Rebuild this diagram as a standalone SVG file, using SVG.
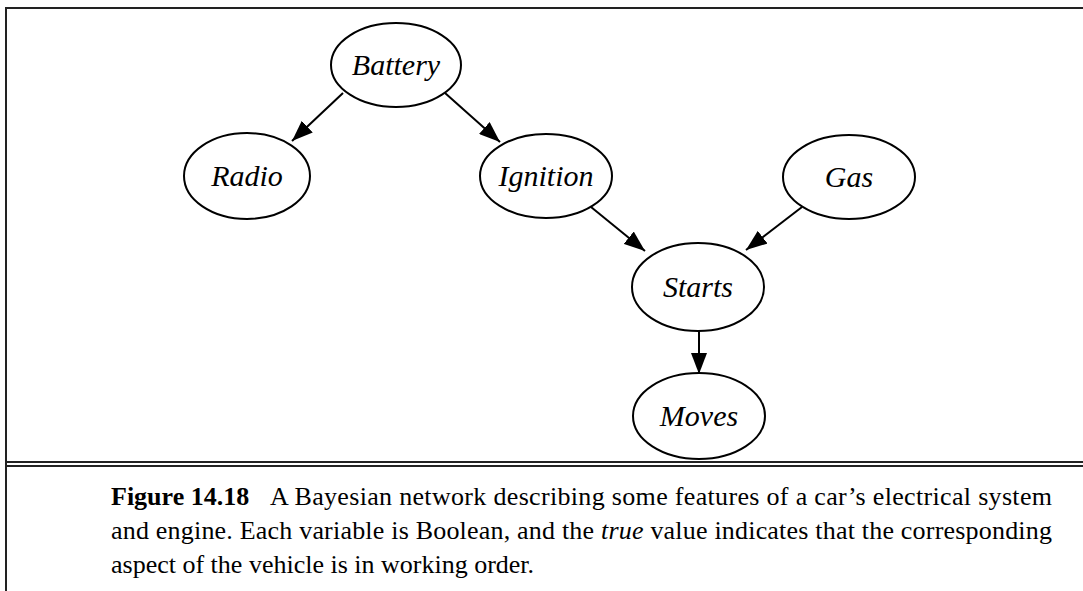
<svg xmlns="http://www.w3.org/2000/svg" width="1083" height="591" viewBox="0 0 1083 591">
<defs>
<marker id="ah" markerUnits="userSpaceOnUse" markerWidth="22" markerHeight="16" viewBox="0 0 22 16" refX="21" refY="8" orient="auto">
<path d="M0,0 L21,8 L0,16 z" fill="#000"/>
</marker>
<style>
.node ellipse{fill:#fff;stroke:#000;stroke-width:2}
.node text{font-family:"Liberation Serif","Times New Roman",serif;font-style:italic;font-size:30px;text-anchor:middle;fill:#000}
.edge{stroke:#000;stroke-width:2;fill:none;marker-end:url(#ah)}
.frame{stroke:#222;stroke-width:2;fill:none}
.cap{font-family:"Liberation Serif","Times New Roman",serif;font-size:26px;fill:#000}
</style>
</defs>
<rect width="1083" height="591" fill="#fff"/>
<g id="frame">
<line class="frame" x1="6" y1="8" x2="1083" y2="8"/>
<line class="frame" x1="6" y1="7" x2="6" y2="591"/>
<line class="frame" x1="6" y1="462" x2="1083" y2="462" stroke-width="1.5"/>
<line class="frame" x1="6" y1="466" x2="1083" y2="466" stroke-width="1.5"/>
</g>
<g id="connectors">
<line class="edge" x1="343" y1="93" x2="292" y2="141"/>
<line class="edge" x1="445" y1="93" x2="500" y2="142"/>
<line class="edge" x1="591" y1="207" x2="645" y2="251"/>
<line class="edge" x1="802" y1="207" x2="746" y2="250"/>
<line class="edge" x1="699" y1="331" x2="699" y2="374"/>
</g>
<g id="battery" class="node"><ellipse cx="396" cy="65" rx="65" ry="42"/><text x="396" y="75">Battery</text></g>
<g id="radio" class="node"><ellipse cx="247" cy="176" rx="63" ry="43"/><text x="247" y="186">Radio</text></g>
<g id="ignition" class="node"><ellipse cx="546" cy="176" rx="66" ry="42"/><text x="546" y="186">Ignition</text></g>
<g id="gas" class="node"><ellipse cx="849" cy="177" rx="66" ry="42"/><text x="849" y="187">Gas</text></g>
<g id="starts" class="node"><ellipse cx="698" cy="287" rx="66" ry="44"/><text x="698" y="297">Starts</text></g>
<g id="moves" class="node"><ellipse cx="699" cy="416" rx="66" ry="43"/><text x="699" y="426">Moves</text></g>
<g id="caption">
<text class="cap" x="111" y="505" font-weight="bold">Figure 14.18</text>
<text class="cap" x="270" y="505" textLength="782" lengthAdjust="spacing">A Bayesian network describing some features of a car’s electrical system</text>
<text class="cap" x="111" y="539" textLength="941" lengthAdjust="spacing">and engine. Each variable is Boolean, and the <tspan font-style="italic">true</tspan> value indicates that the corresponding</text>
<text class="cap" x="111" y="573">aspect of the vehicle is in working order.</text>
</g>
</svg>
